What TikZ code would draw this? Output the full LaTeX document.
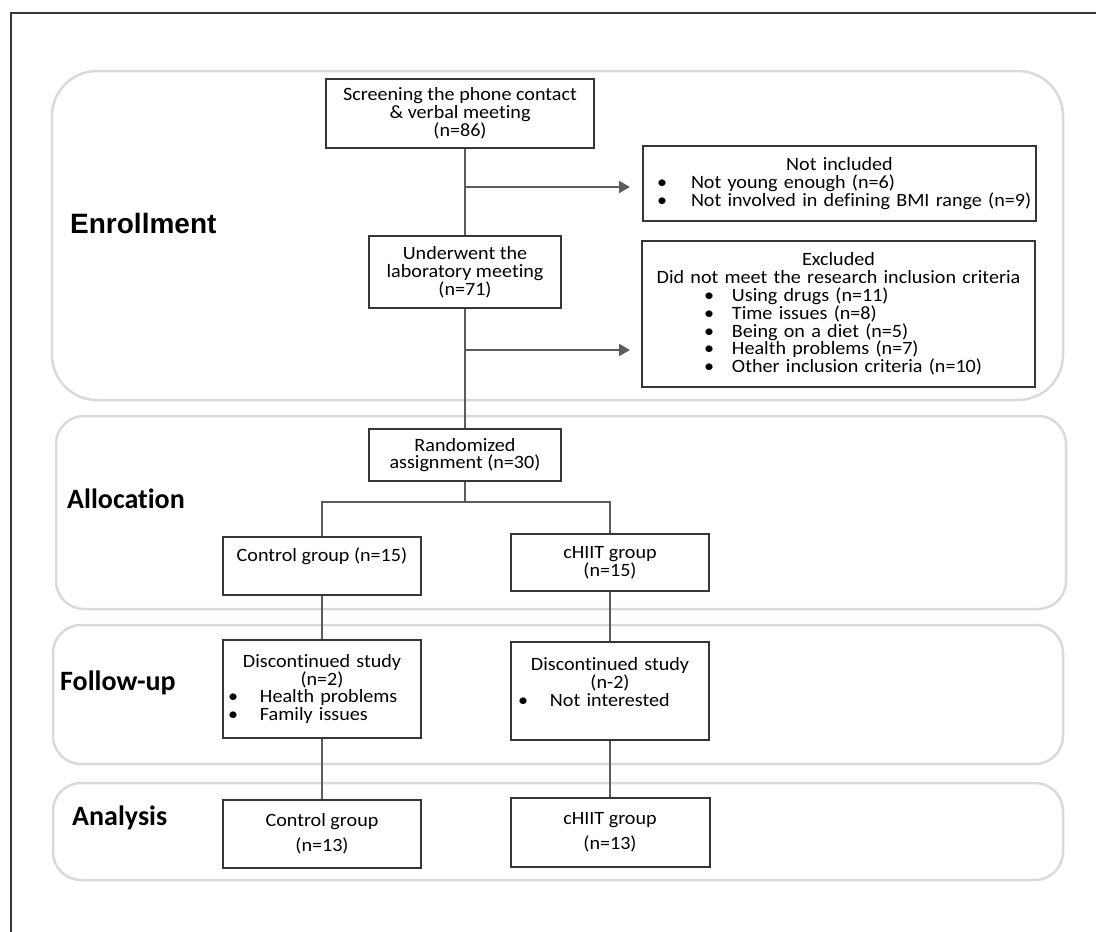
\documentclass[tikz,border=0pt]{standalone}
\usepackage{fontspec}
\setmainfont{Carlito}[FakeStretch=1.07, Ligatures=NoCommon]
\newfontfamily\labelfont{Carlito}[Ligatures=NoCommon]
\newfontfamily\enrollfont{Liberation Sans}
\usetikzlibrary{arrows.meta}

\definecolor{boxgray}{HTML}{363636}
\definecolor{linegray}{HTML}{5C5C5C}
\definecolor{panelgray}{HTML}{DADADA}

\newcommand{\bodysize}{\fontsize{18.8}{17.8}\selectfont}
\newcommand{\bul}[3]{\mbox{\hspace*{#1}\makebox[#2][l]{\textbullet}#3}}
\newcommand{\midline}[1]{\hspace*{\fill}#1\hspace*{\fill}\mbox{}}

\tikzset{
  box/.style={draw=boxgray, line width=2pt, inner sep=0pt, align=center, font=\bodysize},
  listbox/.style={box, align=left},
  panel/.style={draw=panelgray, line width=2.5pt},
  link/.style={draw=linegray, line width=2pt},
  arrowlink/.style={link, -{Triangle[length=11pt,width=12pt]}},
  stagelabel/.style={anchor=base west, inner sep=0pt, font=\labelfont\bfseries\fontsize{28}{30}\selectfont},
}

\begin{document}
\begin{tikzpicture}[x=1pt, y=-1pt]
  \useasboundingbox (0,0) rectangle (1096,932);
  % frame and stage panels
  \draw[boxgray, line width=1.5pt] (1096,13) -- (11,13) -- (11,932);
  \draw[panel, rounded corners=45pt] (52,71) rectangle (1063,400);
  \draw[panel, rounded corners=28pt] (56,416) rectangle (1066,609);
  \draw[panel, rounded corners=28pt] (53,625) rectangle (1063,764);
  \draw[panel, rounded corners=28pt] (53,783) rectangle (1063,880);

  \node[stagelabel, font=\enrollfont\bfseries\fontsize{28}{30}\selectfont] (enroll) at (70,233) {Enrollment};
  \node[stagelabel] (alloc) at (67,508) {Allocation};
  \node[stagelabel] (follow) at (60,690) {Follow-up};
  \node[stagelabel] (analys) at (72,825) {Analysis};

  % enrollment
  \node[box, minimum width=268pt, minimum height=69pt] (screen) at (460,113.5)
    {Screening the phone contact\\ \& verbal meeting\\ (n=86)};
  \node[listbox, text width=393pt, minimum height=75pt] (notinc) at (839.5,183.5)
    {\midline{Not included}\\
     \bul{14pt}{34pt}{Not young enough (n=6)}\\
     \bul{14pt}{34pt}{Not involved in defining BMI range (n=9)}};
  \node[box, minimum width=192pt, minimum height=72pt] (under) at (465,272)
    {Underwent the\\ laboratory meeting\\ (n=71)};
  \node[listbox, text width=393pt, minimum height=146pt] (excl) at (838.5,314)
    {\midline{Excluded}\\
     \midline{Did not meet the research inclusion criteria}\\
     \bul{62pt}{28pt}{Using drugs (n=11)}\\
     \bul{62pt}{28pt}{Time issues (n=8)}\\
     \bul{62pt}{28pt}{Being on a diet (n=5)}\\
     \bul{62pt}{28pt}{Health problems (n=7)}\\
     \bul{62pt}{28pt}{Other inclusion criteria (n=10)}};

  % allocation
  \node[box, minimum width=192pt, minimum height=52pt] (rand) at (465,455)
    {Randomized\\ assignment (n=30)};
  \node[box, minimum width=198pt, minimum height=58pt] (ctrlA) at (322,566)
    {Control group (n=15)\\ \strut};
  \node[box, minimum width=198pt, minimum height=57pt] (chiitA) at (610,562.5)
    {cHIIT group\\ (n=15)};

  % follow-up
  \node[listbox, text width=198pt, minimum height=98pt] (ctrlB) at (322,689)
    {\midline{Discontinued study}\\
     \midline{(n=2)}\\
     \bul{5pt}{32pt}{Health problems}\\
     \bul{5pt}{32pt}{Family issues}};
  \node[listbox, text width=198pt, minimum height=98pt] (chiitB) at (610,691)
    {\midline{Discontinued study}\\
     \midline{(n-2)}\\
     \bul{7pt}{32pt}{Not interested}\\
     \mbox{}};

  % analysis
  \node[box, minimum width=198pt, minimum height=68pt] (ctrlC) at (322,834)
    {Control group\\[7pt] (n=13)};
  \node[box, minimum width=199pt, minimum height=69pt] (chiitC) at (610,832.5)
    {cHIIT group\\[7pt] (n=13)};

  % connectors
  \coordinate (j1) at (465,187);
  \coordinate (t1) at (630,187);
  \coordinate (j2) at (465,350);
  \coordinate (t2) at (630,350);
  \coordinate (split) at (465,502);
  \draw[link] (screen.south -| under.north) -- (under.north);
  \draw[link] (under.south) -- (rand.north);
  \draw[arrowlink] (j1) -- (t1);
  \draw[arrowlink] (j2) -- (t2);
  \draw[link] (rand.south) -- (split);
  \draw[link] (split) -| (ctrlA.north);
  \draw[link] (split) -| (chiitA.north);
  \draw[link] (ctrlA.south) -- (ctrlB.north);
  \draw[link] (chiitA.south) -- (chiitB.north);
  \draw[link] (ctrlB.south) -- (ctrlC.north);
  \draw[link] (chiitB.south) -- (chiitC.north);
\end{tikzpicture}
\end{document}
